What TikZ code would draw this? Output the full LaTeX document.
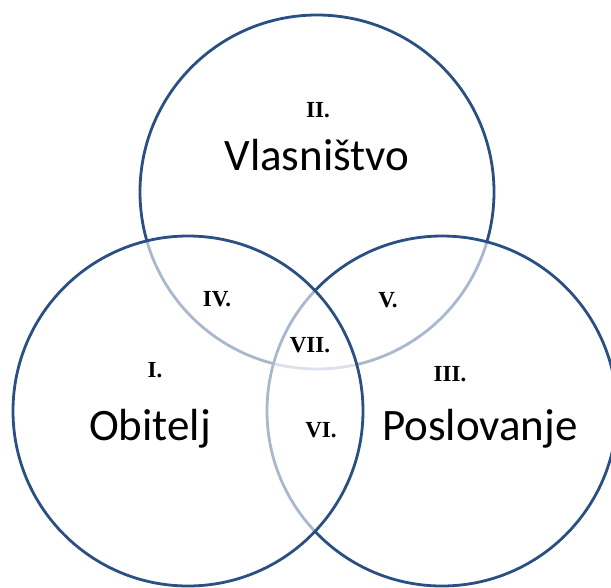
\documentclass[tikz,border=0pt]{standalone}
\usepackage{fontspec}
\setmainfont{Carlito}
\newfontfamily\romfont{Liberation Serif}
\definecolor{ring}{HTML}{2A4F82}
\tikzset{
  ringc/.style={draw=ring, line width=2.8pt, fill=white, fill opacity=0.6, draw opacity=1},
  bigword/.style={anchor=base, inner sep=0pt, font=\fontsize{45}{50}\selectfont, text=black},
  roman/.style={anchor=base, inner sep=0pt, font=\romfont\bfseries\fontsize{23}{26}\selectfont, text=black}
}
\begin{document}
\begin{tikzpicture}[x=1pt,y=-1pt]
\useasboundingbox (0,0) rectangle (611,587);
\clip (0,0) rectangle (611,587);
\path[ringc] (317,192) circle[radius=177pt];
\path[ringc] (442,411) circle[radius=175pt];
\path[ringc] (188,411) circle[radius=175pt];
\node[bigword] (vl) at (317,170) {Vlasništvo};
\node[bigword] (ob) at (150,440) {Obitelj};
\node[bigword] (po) at (480,440) {Poslovanje};
\node[roman] (r1) at (155,377) {I.};
\node[roman] (r2) at (318,117) {II.};
\node[roman] (r3) at (450,381) {III.};
\node[roman] (r4) at (217,306) {IV.};
\node[roman] (r5) at (388,307) {V.};
\node[roman] (r6) at (321,437) {VI.};
\node[roman] (r7) at (310,352) {VII.};
\end{tikzpicture}
\end{document}
